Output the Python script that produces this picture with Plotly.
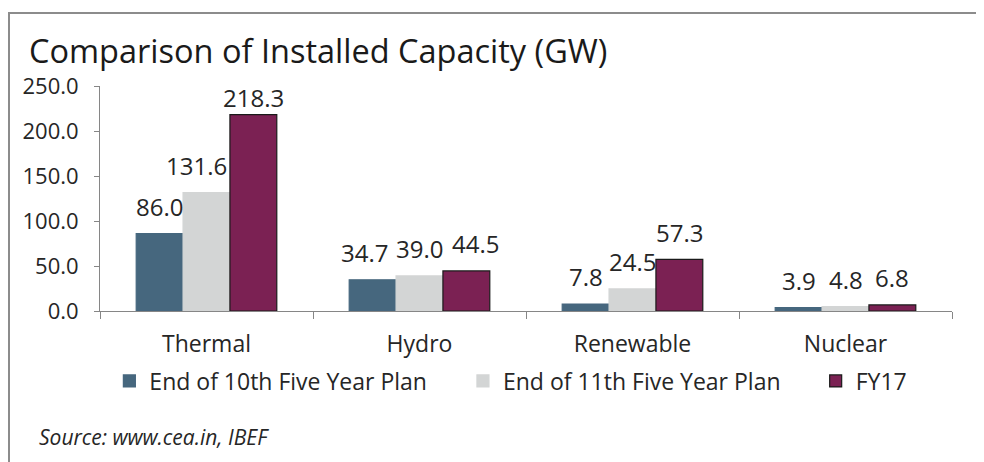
import plotly.graph_objects as go

# Installed capacity by source (GW)
categories = ["Thermal", "Hydro", "Renewable", "Nuclear"]
plan_10th = [86.0, 34.7, 7.8, 3.9]
plan_11th = [131.6, 39.0, 24.5, 4.8]
fy17 = [218.3, 44.5, 57.3, 6.8]

series_names = ["End of 10th Five Year Plan", "End of 11th Five Year Plan", "FY17"]
series_colors = ["#46677E", "#D3D5D5", "#7B2153"]
series_lines = ["#46677E", "#D3D5D5", "#1a1a1a"]
legend_ids = ["legend", "legend2", "legend3"]

FONT = "Open Sans"
TXT = "#262626"
BARGAP = 0.34

# hand-placed labels in the original (pixel nudges: dx, dy)
label_nudges = {(0, 1): (-10, 0), (0, 2): (0, -10), (1, 0): (-8, 0), (1, 2): (9, 0)}

fig = go.Figure()
all_series = [plan_10th, plan_11th, fy17]
for name, vals, col, lc, lg in zip(series_names, all_series,
                                   series_colors, series_lines, legend_ids):
    fig.add_trace(go.Bar(
        x=categories, y=vals, name=name, legend=lg,
        marker=dict(color=col, line=dict(color=lc, width=1.2)),
    ))

# data labels above each bar, like Excel's "outside end"
bar_w = (1 - BARGAP) / len(all_series)
annotations = []
for s, vals in enumerate(all_series):
    off = (s - (len(all_series) - 1) / 2) * bar_w
    for c, v in enumerate(vals):
        dx, dy = label_nudges.get((c, s), (0, 0))
        annotations.append(dict(
            x=c + off, y=v, xref="x", yref="y", text=f"{v:.1f}", showarrow=False,
            xanchor="center", yanchor="middle", xshift=dx, yshift=27 + dy,
            font=dict(family=FONT, size=24, color=TXT)))

annotations += [
    dict(text="Comparison of Installed Capacity (GW)", xref="paper", yref="paper",
         x=-0.0857, y=1.16, xanchor="left", yanchor="middle", showarrow=False,
         font=dict(family=FONT, size=32.5, color="#1a1a1a")),
    dict(text="<i>Source: www.cea.in, IBEF</i>", xref="paper", yref="paper",
         x=-0.0735, y=-0.56, xanchor="left", yanchor="middle", showarrow=False,
         font=dict(family=FONT, size=21, color=TXT)),
]

# one legend per series so each entry sits where the original had it
def make_legend(x):
    return dict(orientation="h", x=x, y=-0.311, xanchor="left", yanchor="middle",
                bgcolor="rgba(0,0,0,0)", font=dict(family=FONT, size=23, color=TXT))

fig.update_layout(
    width=984, height=462,
    margin=dict(l=92, r=40, t=78, b=159, autoexpand=False),
    paper_bgcolor="white", plot_bgcolor="white",
    barmode="group", bargap=BARGAP, bargroupgap=0,
    font=dict(family=FONT, color=TXT),
    showlegend=True,
    legend=make_legend(0.011),
    legend2=make_legend(0.426),
    legend3=make_legend(0.840),
    xaxis=dict(showline=True, linecolor="#868686", linewidth=1, ticks="outside",
               tickson="boundaries", ticklen=7, tickcolor="#868686",
               tickfont=dict(family=FONT, size=23, color=TXT), ticklabelstandoff=12,
               showgrid=False, automargin=False),
    yaxis=dict(range=[0, 250], dtick=50, tickformat=".1f", showline=True,
               linecolor="#868686", linewidth=1, ticks="outside", ticklen=5,
               tickcolor="#868686", tickfont=dict(family=FONT, size=22, color=TXT),
               ticklabelstandoff=11, showgrid=False, zeroline=False, automargin=False),
    annotations=annotations,
    shapes=[
        dict(type="rect", xref="paper", yref="paper", x0=-0.1068, y0=-0.8,
             x1=1.2, y1=1.3244, line=dict(color="#8c8c8c", width=2),
             fillcolor="rgba(0,0,0,0)", layer="below"),
    ],
)

fig.write_html("out.html")
